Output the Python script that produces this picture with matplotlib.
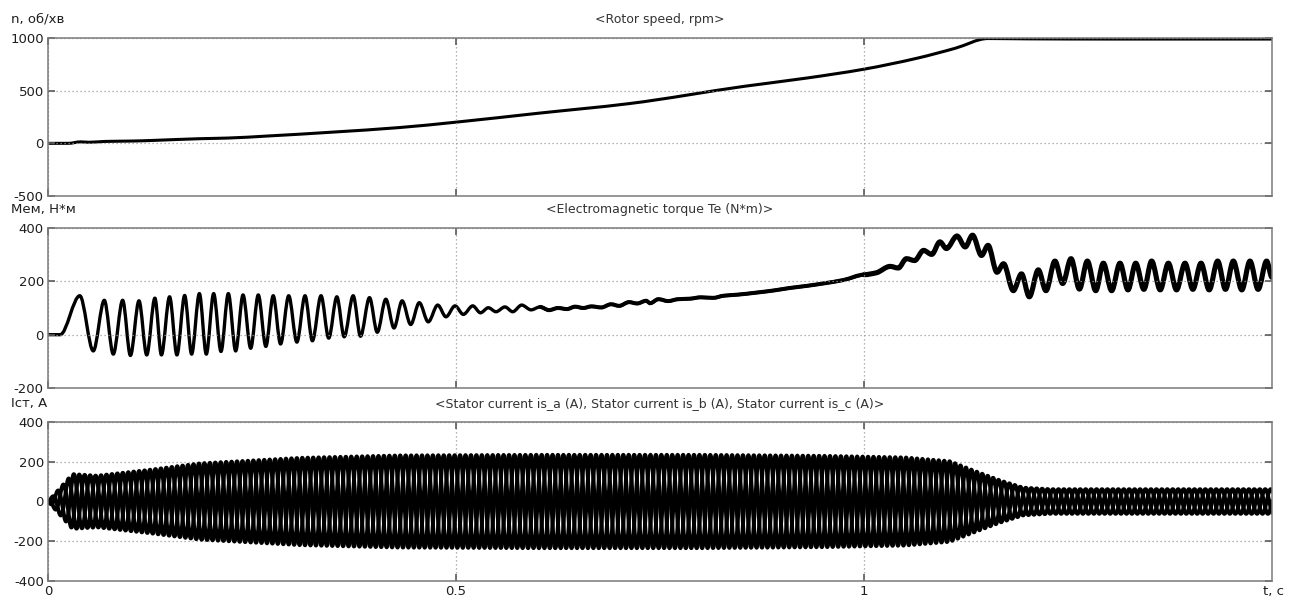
import numpy as np
import matplotlib
matplotlib.use("Agg")
import matplotlib.pyplot as plt
from matplotlib.path import Path
from matplotlib.patches import PathPatch

# ---------------- data ----------------
speed_t = [0.0, 0.025, 0.04, 0.05, 0.07, 0.105, 0.13, 0.186, 0.22, 0.268, 0.35,
           0.431, 0.5, 0.6, 0.712, 0.853, 0.93, 1.0, 1.065, 1.112, 1.152,
           1.2, 1.3, 1.4, 1.5]
speed_rpm = [0, 0, 14, 10, 18, 22, 28, 44, 50, 69, 107,
             150, 201, 285, 377, 541, 620, 704, 808, 903, 995,
             992, 990, 990, 990]

torque_t = [0.0, 0.015, 0.039, 0.0555, 0.069, 0.080, 0.0915, 0.101,
            0.1115, 0.121, 0.131, 0.139, 0.149, 0.158, 0.1675, 0.176, 0.1855, 0.194,
            0.203, 0.212, 0.221, 0.230, 0.239, 0.2484, 0.2577, 0.267, 0.276, 0.285,
            0.295, 0.305, 0.315, 0.324, 0.3346, 0.344, 0.354, 0.363, 0.374, 0.383,
            0.394, 0.4035, 0.414, 0.424, 0.434, 0.4445, 0.455, 0.466, 0.4776, 0.4877,
            0.4988, 0.509, 0.5205, 0.530, 0.5396, 0.549, 0.560, 0.5695, 0.5805, 0.592,
            0.603, 0.614, 0.625, 0.636, 0.646, 0.656, 0.666, 0.678, 0.690, 0.700,
            0.712, 0.722, 0.733, 0.738, 0.748, 0.760, 0.772, 0.787, 0.800, 0.815,
            0.828, 0.845, 0.869, 0.890, 0.909, 0.930, 0.950, 0.975, 1.0, 1.015,
            1.032, 1.042, 1.052, 1.062, 1.073, 1.083, 1.093, 1.101, 1.114, 1.124,
            1.133, 1.144, 1.152, 1.163, 1.171, 1.183, 1.193, 1.2026, 1.2136, 1.223,
            1.234, 1.2435, 1.2537, 1.264, 1.2737, 1.284, 1.2933, 1.3035, 1.3137, 1.3235,
            1.333, 1.343, 1.3525, 1.363, 1.373, 1.383, 1.3934, 1.403, 1.413, 1.423,
            1.4334, 1.443, 1.4526, 1.463, 1.473, 1.483, 1.4934, 1.5]
torque_nm = [0, 0, 146, -61, 129, -73, 129, -78,
             127, -76, 137, -76, 142, -76, 147, -73, 154, -73,
             154, -63, 154, -61, 149, -51, 149, -44, 146, -35,
             146, -28, 146, -23, 146, -13, 142, -8, 146, -6,
             139, 9, 133, 25, 127, 38, 120, 48, 111, 67,
             108, 76, 108, 82, 101, 86, 104, 86, 111, 93,
             104, 92, 100, 96, 105, 100, 106, 102, 114, 108,
             122, 117, 127, 118, 133, 126, 133, 135, 140, 138,
             146, 150, 158, 166, 175, 183, 192, 205, 225, 232,
             256, 250, 285, 278, 316, 301, 348, 323, 370, 329,
             373, 297, 335, 234, 266, 165, 228, 142, 243, 165,
             276, 192, 285, 171, 276, 165, 268, 165, 268, 168,
             268, 170, 276, 168, 268, 168, 268, 170, 268, 168,
             276, 170, 276, 168, 276, 170, 276, 215]

current_env_t = [0.0, 0.03, 0.06, 0.125, 0.186, 0.31, 0.43, 0.6, 0.8, 0.95,
                 1.05, 1.105, 1.137, 1.167, 1.195, 1.228, 1.5]
current_env_a = [0, 138, 130, 160, 192, 220, 232, 235, 235, 230,
                 222, 203, 152, 106, 70, 62, 62]
supply_freq_hz = 50.0
phase_shift_deg = [0, -120, 120]

titles = ["<Rotor speed, rpm>", "<Electromagnetic torque Te (N*m)>",
          "<Stator current is_a (A), Stator current is_b (A), Stator current is_c (A)>"]
ylabels = ["n, об/хв", "Мем, Н*м", "Iст, А"]
yticks = [[-500, 0, 500, 1000], [-200, 0, 200, 400], [-400, -200, 0, 200, 400]]
ylims = [(-500, 1000), (-200, 400), (-400, 400)]
xticks = [0, 0.5, 1]
xticklabels = ["0", "0.5", "1"]


def smooth_path(xs, ys):
    """Monotone cubic Bezier path through the given points (drawn by matplotlib)."""
    x = np.asarray(xs, float)
    y = np.asarray(ys, float)
    h = np.diff(x)
    d = np.diff(y) / h
    m = np.zeros_like(y)
    for i in range(1, len(y) - 1):
        if d[i - 1] * d[i] > 0:
            w1 = 2 * h[i] + h[i - 1]
            w2 = h[i] + 2 * h[i - 1]
            m[i] = (w1 + w2) / (w1 / d[i - 1] + w2 / d[i])
    verts = [(x[0], y[0])]
    codes = [Path.MOVETO]
    for i in range(len(x) - 1):
        verts += [(x[i] + h[i] / 3, y[i] + m[i] * h[i] / 3),
                  (x[i + 1] - h[i] / 3, y[i + 1] - m[i + 1] * h[i] / 3),
                  (x[i + 1], y[i + 1])]
        codes += [Path.CURVE4] * 3
    return Path(verts, codes)


# ---------------- figure ----------------
plt.rcParams['font.family'] = ['DejaVu Sans']
plt.rcParams['axes.unicode_minus'] = False
W, H = 1295, 598
fig = plt.figure(figsize=(W / 100, H / 100), dpi=100)


def fx(px):
    return px / W


def fy(py):
    return 1 - py / H


boxes = [(38, 196), (228, 388), (422, 581)]
left_px, right_px = 48, 1272
axes = []
for (top, bot) in boxes:
    ax = fig.add_axes([fx(left_px), fy(bot), fx(right_px - left_px), (bot - top) / H])
    axes.append(ax)

axes[0].add_patch(PathPatch(smooth_path(speed_t, speed_rpm), fill=False,
                            edgecolor='black', lw=2.2, capstyle='round', joinstyle='round'))
axes[1].add_patch(PathPatch(smooth_path(torque_t, torque_nm), fill=False,
                            edgecolor='black', lw=2.4, capstyle='round', joinstyle='round'))
k0 = next(i for i, t in enumerate(torque_t) if t >= 0.6)
k1 = next(i for i, t in enumerate(torque_t) if t >= 1.0)
axes[1].add_patch(PathPatch(smooth_path(torque_t[k0:k1 + 1], torque_nm[k0:k1 + 1]),
                            fill=False, edgecolor='black', lw=2.9, capstyle='round'))
axes[1].add_patch(PathPatch(smooth_path(torque_t[k1:], torque_nm[k1:]), fill=False,
                            edgecolor='black', lw=3.7, capstyle='round', joinstyle='round'))

tc = np.arange(0, 1.5 + 1e-9, 0.0004)
amp = np.interp(tc, current_env_t, current_env_a)
for ph in phase_shift_deg:
    axes[2].plot(tc, amp * np.sin(2 * np.pi * supply_freq_hz * tc + np.deg2rad(ph)),
                 color='black', lw=2.8)

txt_color = '#1e1e1e'
for i, ax in enumerate(axes):
    ax.set_xlim(0, 1.5)
    ax.set_ylim(*ylims[i])
    ax.set_yticks(yticks[i])
    ax.set_xticks(xticks)
    ax.grid(True, color='#9a9a9a', linestyle=(0, (1, 2.2)), lw=0.9)
    ax.tick_params(direction='in', length=5, width=1.2, colors='#5a5a5a',
                   top=True, right=True, labelsize=9.5, labelcolor=txt_color, pad=3)
    for sp in ax.spines.values():
        sp.set_color('#7a7a7a')
        sp.set_linewidth(1.1)
    if i < 2:
        ax.set_xticklabels([])
    else:
        ax.set_xticklabels(xticklabels)
    top = boxes[i][0]
    fig.text(fx(660), fy(top - 18), titles[i], ha='center', va='center',
             fontsize=9, color='#333333')
    fig.text(fx(11), fy(top - 19), ylabels[i], ha='left', va='center',
             fontsize=9.5, color=txt_color)

fig.text(fx(1284), fy(592), "t, c", ha='right', va='center', fontsize=9.5, color=txt_color)

fig.savefig("out.png", dpi=100, facecolor='white')
